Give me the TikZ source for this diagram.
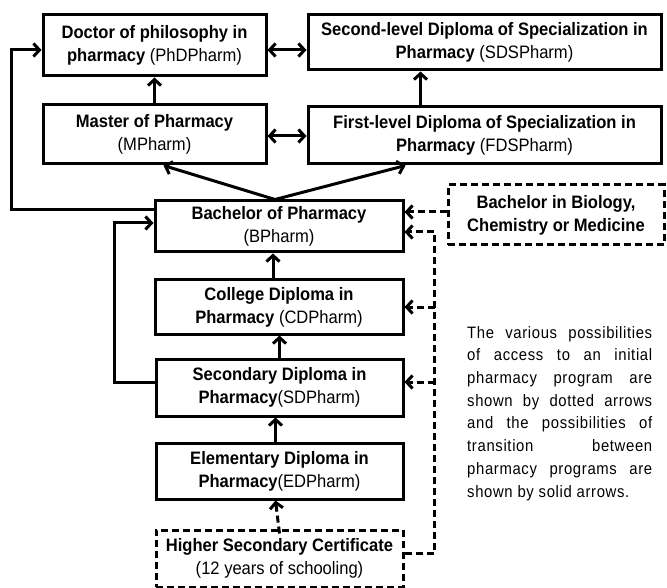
\documentclass[tikz,border=0pt]{standalone}
\usepackage{fontspec}
\setmainfont{Liberation Sans}[FakeStretch=0.92]
\newfontfamily\notefont{Liberation Sans}[FakeStretch=0.9,LetterSpace=4]
\usetikzlibrary{arrows.meta}

\begin{document}
\begin{tikzpicture}[x=1pt,y=-1pt,
   prog/.style={draw,line width=3pt,align=center,inner sep=0pt,
      font=\fontsize{18}{23}\selectfont},
   entry/.style={prog,dash pattern=on 7pt off 4pt},
   move/.style={line width=3pt,-{Straight Barb[length=6pt,width=13pt]}},
   access/.style={move,dash pattern=on 7pt off 4pt}]
\useasboundingbox (0,0) rectangle (667,588);
% programs
\node[prog,minimum width=223pt,minimum height=61pt] (phd) at (154.5,45.5)
   {\textbf{Doctor of philosophy in}\\\textbf{pharmacy} (PhDPharm)};
\node[prog,minimum width=353pt,minimum height=55pt] (sds) at (484.5,42.5)
   {\textbf{Second-level Diploma of Specialization in}\\\textbf{Pharmacy} (SDSPharm)};
\node[prog,minimum width=223pt,minimum height=59pt] (mph) at (154.5,134.5)
   {\textbf{Master of Pharmacy}\\(MPharm)};
\node[prog,minimum width=353pt,minimum height=57pt] (fds) at (484.5,135.5)
   {\textbf{First-level Diploma of Specialization in}\\\textbf{Pharmacy} (FDSPharm)};
\node[prog,minimum width=248pt,minimum height=51pt] (bph) at (279,226.5)
   {\textbf{Bachelor of Pharmacy}\\(BPharm)};
\node[prog,minimum width=248pt,minimum height=54pt] (cdp) at (279,307)
   {\textbf{College Diploma in}\\\textbf{Pharmacy} (CDPharm)};
\node[prog,minimum width=247pt,minimum height=57pt] (sdp) at (279.5,387.5)
   {\textbf{Secondary Diploma in}\\\textbf{Pharmacy}(SDPharm)};
\node[prog,minimum width=247pt,minimum height=56pt] (edp) at (279.5,471)
   {\textbf{Elementary Diploma in}\\\textbf{Pharmacy}(EDPharm)};
% entries
\node[entry,minimum width=216pt,minimum height=60pt] (bio) at (556,215)
   {\textbf{Bachelor in Biology,}\\\textbf{Chemistry or Medicine}};
\node[entry,minimum width=247pt,minimum height=57pt] (hsc) at (279.5,558.5)
   {\textbf{Higher Secondary Certificate}\\(12 years of schooling)};
% note
\node[anchor=north west,text width=185pt,inner sep=0pt,align=justify,
   font=\notefont\fontsize{16.5}{22.7}\selectfont] (note) at (467,326)
   {The various possibilities\linebreak of access to an initial\linebreak
    pharmacy program are\linebreak shown by dotted arrows\linebreak
    and the possibilities of\linebreak transition between\linebreak
    pharmacy programs are\linebreak shown by solid arrows.};
% transitions
\draw[move,{Straight Barb[length=6pt,width=13pt]}-{Straight Barb[length=6pt,width=13pt]}]
   ([yshift=-4.5pt]phd.east) -- ([yshift=-4.5pt]phd.east -| sds.west);
\draw[move,{Straight Barb[length=6pt,width=13pt]}-{Straight Barb[length=6pt,width=13pt]}]
   ([yshift=-1.5pt]mph.east) -- ([yshift=-1.5pt]mph.east -| fds.west);
\draw[move] (mph.north) -- (phd.south);
\draw[move] ([xshift=114pt]fds.north west) -- ([xshift=114pt]sds.south west);
\draw[move] ([xshift=-4pt]bph.north) -- ([xshift=9pt]mph.south);
\draw[move] ([xshift=-4pt]bph.north) -- ([xshift=99pt]fds.south west);
\draw[move] ([yshift=16.5pt]bph.west) -- ++(-142,0) |- ([yshift=-4.5pt]phd.west);
\draw[move] ([yshift=5.5pt]sdp.west) -- ++(-40,0) |- ([yshift=3.5pt]bph.west);
\draw[move] ([xshift=-6pt]cdp.north) -- ([xshift=-6pt]bph.south);
\draw[move] (sdp.north) -- (sdp.north |- cdp.south);
\draw[move] ([xshift=-4pt]edp.north) -- ([xshift=-4pt]sdp.south);
% access
\draw[access] ([yshift=-5pt]hsc.north) -- ([xshift=-4pt]edp.south);
\draw[access] ([yshift=3pt]bio.west) -- ([yshift=3pt]bio.west -| bph.east);
\draw[access] ([yshift=5.5pt]hsc.east) -- ++(30,0) coordinate (trunk)
   |- ([yshift=-5.5pt]bph.east);
\draw[access] (trunk |- cdp.east) -- (cdp.east);
\coordinate (sdpin) at ([yshift=5.5pt]sdp.east);
\draw[access] (trunk |- sdpin) -- (sdpin);
\end{tikzpicture}
\end{document}
